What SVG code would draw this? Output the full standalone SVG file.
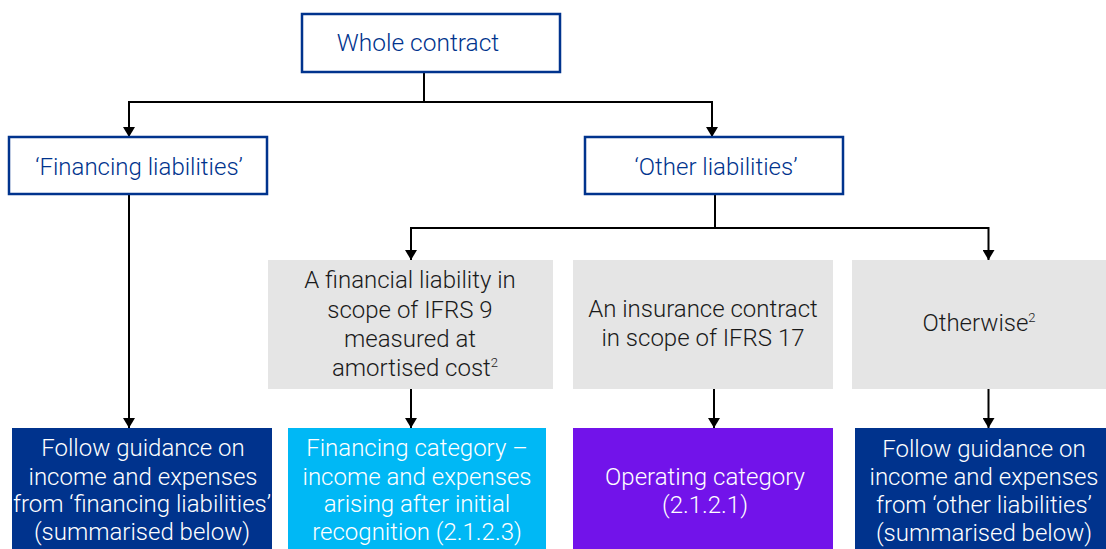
<svg xmlns="http://www.w3.org/2000/svg" width="1106" height="549" viewBox="0 0 1106 549">
<defs>
<style>
.t{font-family:Roboto,"Liberation Sans",Arial,sans-serif;font-weight:300;font-size:24px;text-anchor:middle}
.blue{fill:#00338D}
.dark{fill:#1a1a1a}
.wh{fill:#ffffff}
.ob{fill:#ffffff;stroke:#00338D;stroke-width:2.5}
.gb{fill:#E5E5E5}
.c{fill:none;stroke:#000;stroke-width:2}
.sup{font-size:13px}
</style>
<marker id="ad" markerUnits="userSpaceOnUse" markerWidth="12" markerHeight="10" viewBox="0 0 12 10" refX="6" refY="10" orient="0">
<path d="M0,0 L12,0 L6,10 Z" fill="#000"/>
</marker>
</defs>
<rect width="1106" height="549" fill="#ffffff"/>
<g id="connectors">
<path class="c" d="M424,72 V102"/>
<path class="c" d="M424,102 H129 V137" marker-end="url(#ad)"/>
<path class="c" d="M424,102 H712 V137" marker-end="url(#ad)"/>
<path class="c" d="M129,194 V428" marker-end="url(#ad)"/>
<path class="c" d="M715,194 V228"/>
<path class="c" d="M715,228 H411 V260" marker-end="url(#ad)"/>
<path class="c" d="M715,228 H988.5 V260" marker-end="url(#ad)"/>
<path class="c" d="M411,389 V428" marker-end="url(#ad)"/>
<path class="c" d="M714,389 V428" marker-end="url(#ad)"/>
<path class="c" d="M988.5,389 V428" marker-end="url(#ad)"/>
</g>
<g id="whole">
<rect class="ob" x="302" y="14" width="258" height="58"/>
<text class="t blue" x="418" y="51" style="font-size:24.5px">Whole contract</text>
</g>
<g id="financing">
<rect class="ob" x="9" y="137" width="258" height="57"/>
<text class="t blue" x="139" y="175">‘Financing liabilities’</text>
</g>
<g id="other">
<rect class="ob" x="585" y="137" width="258" height="57"/>
<text class="t blue" x="716" y="175">‘Other liabilities’</text>
</g>
<g id="ifrs9">
<rect class="gb" x="268" y="260" width="285" height="129"/>
<text class="t dark" x="410"><tspan x="410" y="288">A financial liability in</tspan><tspan x="410" y="318">scope of IFRS 9</tspan><tspan x="410" y="347">measured at</tspan><tspan x="415" y="376">amortised cost<tspan class="sup" dy="-9">2</tspan></tspan></text>
</g>
<g id="ifrs17">
<rect class="gb" x="573" y="260" width="260" height="129"/>
<text class="t dark"><tspan x="703" y="317">An insurance contract</tspan><tspan x="703" y="346">in scope of IFRS 17</tspan></text>
</g>
<g id="otherwise">
<rect class="gb" x="852" y="260" width="254" height="129"/>
<text class="t dark" x="979" y="331">Otherwise<tspan class="sup" dy="-9">2</tspan></text>
</g>
<g id="fin-guidance">
<rect x="12" y="428" width="260" height="121" fill="#00338D"/>
<text class="t wh"><tspan x="143" y="456">Follow guidance on</tspan><tspan x="143" y="485">income and expenses</tspan><tspan x="142" y="512">from ‘financing liabilities’</tspan><tspan x="142" y="540">(summarised below)</tspan></text>
</g>
<g id="fin-category">
<rect x="288" y="428" width="258" height="121" fill="#00B8F5"/>
<text class="t wh"><tspan x="417" y="456">Financing category –</tspan><tspan x="417" y="485">income and expenses</tspan><tspan x="417" y="512">arising after initial</tspan><tspan x="417" y="540">recognition (2.1.2.3)</tspan></text>
</g>
<g id="operating">
<rect x="573" y="428" width="260" height="121" fill="#7213EA"/>
<text class="t wh"><tspan x="705" y="485">Operating category</tspan><tspan x="705" y="513">(2.1.2.1)</tspan></text>
</g>
<g id="other-guidance">
<rect x="855" y="428" width="251" height="121" fill="#00338D"/>
<text class="t wh"><tspan x="984" y="457">Follow guidance on</tspan><tspan x="984" y="485">income and expenses</tspan><tspan x="984" y="513">from ‘other liabilities’</tspan><tspan x="984" y="541">(summarised below)</tspan></text>
</g>
</svg>
